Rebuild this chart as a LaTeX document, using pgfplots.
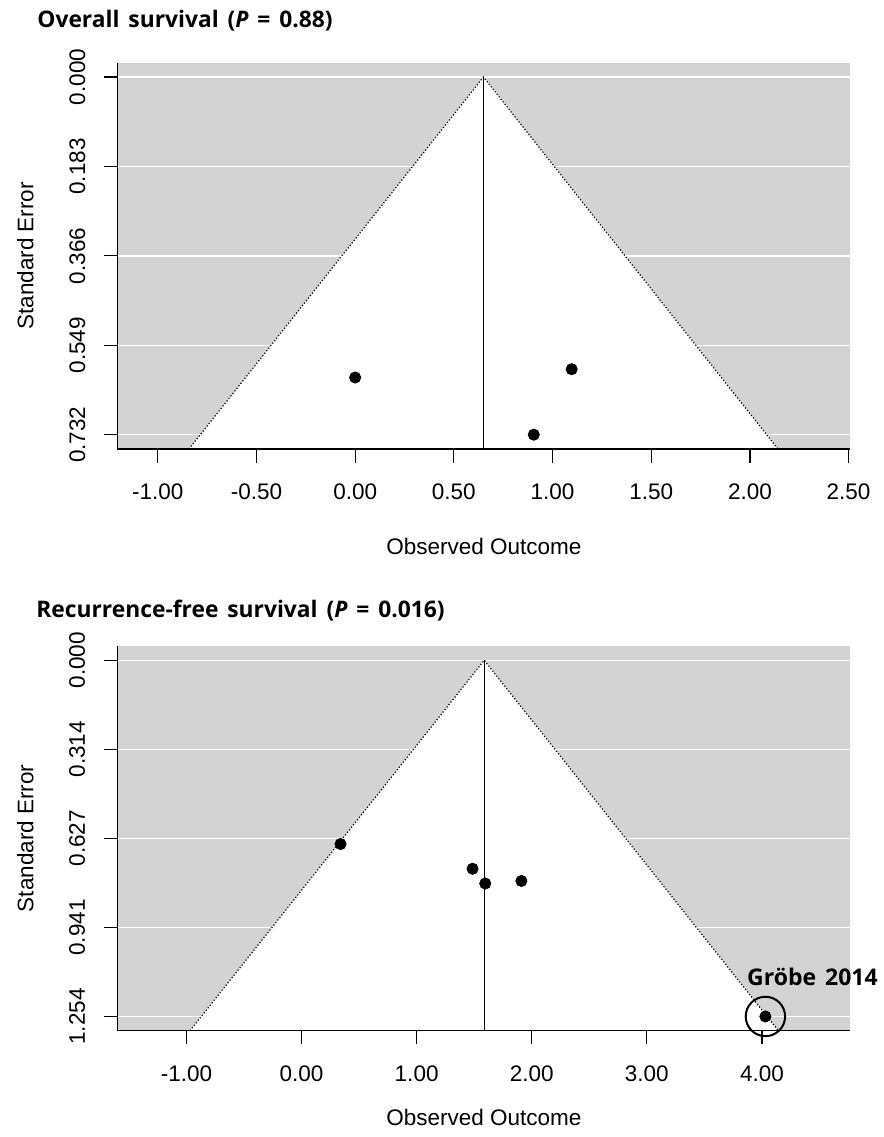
\documentclass[border=0pt]{standalone}
\usepackage{fontspec}
\setmainfont{Liberation Sans}
\newfontfamily\titlefont{Open Sans}[WordSpace=2.0]
\newfontfamily\labfont{Open Sans}[WordSpace=1.5]
\usepackage{pgfplots}
\pgfplotsset{compat=1.18}
\definecolor{bggray}{RGB}{211,211,211}

\pgfplotstableread{
x se
0.000 0.615
1.097 0.598
0.905 0.732
}\osdata
\pgfplotstableread{
x se
0.339 0.647
1.486 0.734
1.596 0.786
1.910 0.777
4.030 1.254
}\rfsdata

\pgfplotsset{funnel/.style={
  scale only axis, width=366.15pt,
  y dir=reverse,
  axis background/.style={fill=bggray},
  axis line style={draw=none},
  tick align=outside,
  major tick length=6.85pt,
  tick style={black, line width=0.6pt},
  xtick pos=left, ytick pos=left,
  ymajorgrids, major grid style={white, line width=0.7pt},
  tick label style={font=\fontsize{11.25}{13}\selectfont},
  label style={font=\fontsize{11.25}{13}\selectfont},
  xticklabel style={anchor=base}, xticklabel shift=18.6pt,
  yticklabel style={rotate=90, anchor=base}, yticklabel shift=9.5pt,
  xlabel={Observed Outcome}, ylabel={Standard Error},
  ylabel style={at={(axis description cs:-0.1153,0.5)}, rotate=0, anchor=base},
  clip=false,
}}

\begin{document}
\begin{tikzpicture}
\useasboundingbox (0,0) rectangle (442pt,568.5pt);
\node[anchor=base west, inner sep=0pt, font=\titlefont\bfseries\fontsize{11.4}{13}\selectfont] at (18.5pt,554.85pt) {Overall survival (\textit{P} = 0.88)};
\node[anchor=base west, inner sep=0pt, font=\titlefont\bfseries\fontsize{11.4}{13}\selectfont] at (18pt,259.65pt) {Recurrence-free survival (\textit{P} = 0.016)};

\begin{axis}[funnel, at={(58.85pt,344pt)}, anchor=south west, height=193.15pt,
  xlabel style={at={(axis description cs:0.5,0)}, anchor=base, yshift=-52.5pt},
  xmin=-1.203, xmax=2.507, ymin=-0.0293, ymax=0.7613,
  xtick={-1,-0.5,0,0.5,1,1.5,2,2.5},
  xticklabels={-1.00,-0.50,0.00,0.50,1.00,1.50,2.00,2.50},
  ytick={0,0.183,0.366,0.549,0.732},
  yticklabels={0.000,0.183,0.366,0.549,0.732}]
\addplot[fill=white, draw=none] coordinates {(-0.8421,0.7613) (0.65,0) (2.1421,0.7613)} -- cycle;
\addplot[black, densely dotted, line width=0.6pt] coordinates {(-0.8421,0.7613) (0.65,0) (2.1421,0.7613)};
\addplot[black, line width=0.6pt] coordinates {(0.65,0) (0.65,0.7613)};
\addplot[only marks, mark=*, mark size=2.8pt, black] table[x=x, y=se] {\osdata};
\draw[black, line width=0.7pt] (axis description cs:0,1) -- (axis description cs:0,0) -- (axis description cs:1,0);
\end{axis}

\begin{axis}[funnel, at={(58.85pt,53.15pt)}, anchor=south west, height=192.35pt,
  xlabel style={at={(axis description cs:0.5,0)}, anchor=base, yshift=-47.5pt},
  xmin=-1.597, xmax=4.765, ymin=-0.0502, ymax=1.3042,
  xtick={-1,0,1,2,3,4},
  xticklabels={-1.00,0.00,1.00,2.00,3.00,4.00},
  ytick={0,0.3135,0.627,0.9405,1.254},
  yticklabels={0.000,0.314,0.627,0.941,1.254}]
\addplot[fill=white, draw=none] coordinates {(-0.969,1.3042) (1.587,0) (4.143,1.3042)} -- cycle;
\addplot[black, densely dotted, line width=0.6pt] coordinates {(-0.969,1.3042) (1.587,0) (4.143,1.3042)};
\addplot[black, line width=0.6pt] coordinates {(1.587,0) (1.587,1.3042)};
\addplot[only marks, mark=*, mark size=2.8pt, black] table[x=x, y=se] {\rfsdata};
\addplot[only marks, mark=o, mark size=9.85pt, black, line width=1pt] coordinates {(4.03,1.254)};
\draw[black, line width=0.7pt] (axis description cs:0,1) -- (axis description cs:0,0) -- (axis description cs:1,0);
\node[anchor=base west, inner sep=0pt, font=\labfont\bfseries\fontsize{11.5}{14}\selectfont] at (axis cs:3.868,1.145) {Gröbe 2014};
\end{axis}
\end{tikzpicture}
\end{document}
